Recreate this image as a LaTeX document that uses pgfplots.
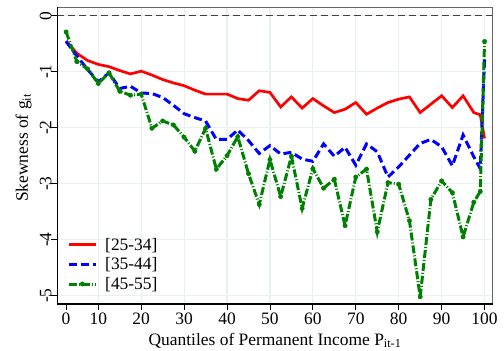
\documentclass[border=0pt]{standalone}
\usepackage{fontspec}
\setmainfont{Liberation Serif}
\usepackage{pgfplots}
\pgfplotsset{compat=1.18}

\definecolor{gridc}{RGB}{232,240,242}
\definecolor{dkgreen}{RGB}{0,128,0}

% skewness by age group, quantiles of permanent income
\pgfplotstableread{
q     a      b      c
2.5  -0.45  -0.46  -0.29
5    -0.67  -0.72  -0.82
7.5  -0.80  -0.96  -0.95
10   -0.87  -1.18  -1.21
12.5 -0.91  -1.02  -1.02
15   -0.98  -1.30  -1.35
17.5 -1.04  -1.26  -1.42
20   -0.99  -1.38  -1.40
22.5 -1.06  -1.39  -2.01
25   -1.14  -1.46  -1.88
27.5 -1.20  -1.60  -1.95
30   -1.25  -1.75  -2.17
32.5 -1.33  -1.82  -2.42
35   -1.40  -1.88  -2.01
37.5 -1.40  -2.21  -2.74
40   -1.40  -2.21  -2.50
42.5 -1.48  -2.04  -2.16
45   -1.51  -2.23  -2.82
47.5 -1.34  -2.46  -3.37
50   -1.37  -2.32  -2.57
52.5 -1.63  -2.47  -3.23
55   -1.45  -2.44  -2.51
57.5 -1.65  -2.56  -3.44
60   -1.48  -2.60  -2.73
62.5 -1.61  -2.29  -3.08
65   -1.73  -2.51  -2.92
67.5 -1.67  -2.35  -3.75
70   -1.55  -2.67  -2.88
72.5 -1.76  -2.29  -2.74
75   -1.65  -2.43  -3.86
77.5 -1.55  -2.88  -2.98
80   -1.49  -2.70  -3.01
82.5 -1.45  -2.49  -3.66
85   -1.73  -2.28  -5.02
87.5 -1.58  -2.21  -3.28
90   -1.43  -2.34  -2.95
92.5 -1.64  -2.68  -3.16
95   -1.43  -2.13  -3.95
97.5 -1.73  -2.52  -3.33
99   -1.77  -2.73  -3.14
100  -2.19  -0.78  -0.46
}\skew

\begin{document}
\begin{tikzpicture}
\begin{axis}[
    name=ax,
    scale only axis,
    width=435.4bp, height=296.7bp,
    font=\fontsize{17.5}{21}\selectfont,
    xmin=0.45, xmax=101.9,
    ymin=-5.148, ymax=0.15,
    xtick={10,20,...,100},
    extra x ticks={2.5},
    extra x tick labels={0},
    extra x tick style={grid=none},
    ytick={-5,-4,-3,-2,-1,0},
    xtick pos=left, ytick pos=left,
    tick align=outside,
    major tick length=6bp,
    tick style={black, line width=0.8bp},
    grid=major,
    major grid style={gridc, line width=1.2bp},
    axis line style={black!60, line width=1.2bp},
    /pgf/number format/assume math mode=true,
    xticklabel style={anchor=north, inner sep=0pt, yshift=-3bp},
    yticklabel style={rotate=90, anchor=base, inner sep=0pt},
    xlabel={Quantiles of Permanent Income P\textsubscript{it-1}},
    ylabel={Skewness of g\textsubscript{it}},
    xlabel style={at={(axis description cs:0.5,0)}, anchor=base, yshift=-41bp},
    ylabel style={at={(axis description cs:-0.0673,0.526)}, anchor=base, rotate=0},
    legend style={at={(rel axis cs:0,0)}, anchor=south west,
        xshift=10bp, yshift=12bp, draw=none, fill=none,
        inner sep=0pt, row sep=4bp,
        nodes={inner sep=1bp},
        /tikz/every odd column/.append style={column sep=7bp},
        font=\fontsize{17.5}{21}\selectfont},
    legend cell align=left,
    legend image code/.code={\draw[mark repeat=2,mark phase=2,#1]
        plot coordinates {(0bp,0bp) (13.35bp,0bp) (26.7bp,0bp)};},
]
\addplot[black!75, line width=1.2bp, dash pattern=on 7bp off 4bp, forget plot]
    coordinates {(0.45,0) (101.9,0)};
\addplot[red, line width=2.7bp] table[x=q, y=a] {\skew};
\addlegendentry{[25-34]}
\addplot[blue, line width=3bp, dash pattern=on 8bp off 4bp] table[x=q, y=b] {\skew};
\addlegendentry{[35-44]}
\addplot[dkgreen, line width=3bp, dash pattern=on 8bp off 2bp on 1bp off 2bp,
    mark=*, mark size=2.2bp, mark options={solid, line width=0.4bp}]
    table[x=q, y=c] {\skew};
\addlegendentry{[45-55]}
\end{axis}
\draw[black, line width=1.2bp] (ax.north west) -- (ax.south west) -- (ax.south east);
\pgfresetboundingbox
\path[use as bounding box] ([xshift=-57.3bp,yshift=-47bp]ax.south west)
    rectangle ([xshift=11.3bp,yshift=7.3bp]ax.north east);
\end{tikzpicture}
\end{document}
